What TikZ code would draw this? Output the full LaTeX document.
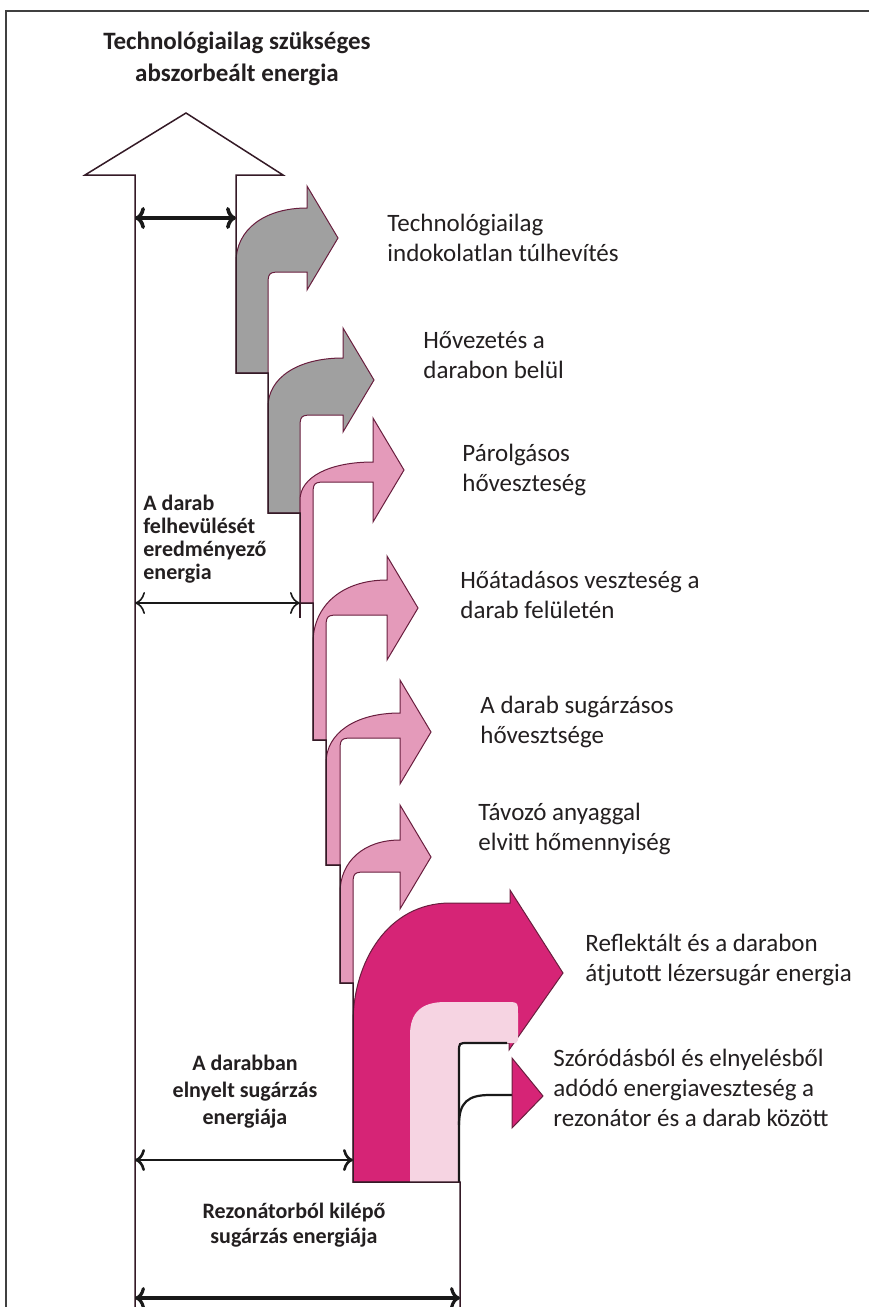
\documentclass[tikz,border=0pt]{standalone}
\usepackage{fontspec}
\setmainfont{Carlito}
\usepackage{tikz}
\usetikzlibrary{arrows.meta}
\definecolor{edgec}{RGB}{52,26,38}
\definecolor{flowedge}{RGB}{105,30,62}
\definecolor{grayflow}{RGB}{160,160,160}
\definecolor{pinkflow}{RGB}{228,154,186}
\definecolor{magflow}{RGB}{214,36,118}
\definecolor{paleflow}{RGB}{246,212,226}
\definecolor{txt}{RGB}{35,31,32}
\tikzset{
  % the page frame
  frame/.style  = {draw=black!75, line width=0.9pt},
  % outline of the main energy stream
  main/.style   = {draw=edgec, line width=0.75pt, line join=miter},
  % a branch leaving the stream
  flow/.style   = {draw=flowedge, line width=0.5pt},
  % a plain black guide line
  blk/.style    = {draw=black!90, line width=1.1pt},
  % a dimension arrow
  dimarr/.style = {{To[length=5pt,width=11pt]}-{To[length=5pt,width=11pt]},
                   draw=black!90},
  % a label beside a branch
  el/.style     = {font=\fontsize{12.5}{15}\selectfont, text=txt,
                   align=left, anchor=west, inner sep=0pt},
  % a bold label on the stream
  bl/.style     = {font=\bfseries\fontsize{11}{13.5}\selectfont, text=txt,
                   align=center, inner sep=0pt},
}
% a bent branch: fill, stem left/right x, stem bottom y, head base x,
% shaft top/bottom y, rise of the outer bend, head centre y
\newcommand{\lossflow}[9]{%
  \filldraw[flow, fill=#1]
    (#2,#4) -- (#2,{#6+#8})
    .. controls (#2,{#6+0.4*#8}) and ({#2+0.4*(#5-#2)},#6) .. (#5,#6)
    -- (#5,{#9-52}) -- ({#5+31},#9) -- (#5,{#9+52})
    -- (#5,#7) -- ({#3+16},#7)
    .. controls (#3,#7) .. (#3,{#7+16})
    -- (#3,#4) -- cycle;
}

\begin{document}
\begin{tikzpicture}[x=0.5pt, y=-0.5pt]
  \useasboundingbox (0,0) rectangle (869,1307);
  \draw[frame] (869,11) -- (6,11) -- (6,1307);

  \lossflow{grayflow}{236}{268}{373}{307}{208}{272}{54}{238}
  \lossflow{grayflow}{268}{300}{513}{343}{358}{415}{49}{380}
  \lossflow{pinkflow}{300}{313}{603}{373}{462}{482}{38}{470}
  \lossflow{pinkflow}{313}{326}{740}{387}{580}{615}{63}{608}
  \lossflow{pinkflow}{326}{340}{865}{400}{713}{738}{50}{732}
  \lossflow{pinkflow}{340}{353}{983}{400}{840}{872}{53}{857}

  % reflected beam, with the scattered part inside it
  \filldraw[flow, fill=magflow] (353,1182) -- (353,1023)
    .. controls (353,962) and (388,903) .. (450,903) -- (510,903)
    -- (510,890) -- (563,973) -- (509,1050) -- (509,1043)
    -- (459,1043) -- (459,1182) -- cycle;
  \fill[paleflow] (410,1182) -- (410,1035)
    .. controls (410,1012) and (422,1002) .. (445,1002) -- (506,1002)
    .. controls (518,1002) .. (518,1014) -- (518,1040) -- (516,1043)
    -- (459,1043) -- (459,1182) -- cycle;
  \draw[blk] (459,1182) -- (459,1052) .. controls (459,1043) .. (468,1043)
    -- (507,1043);
  \draw[blk] (459,1125) .. controls (459,1102) and (468,1095) .. (490,1095)
    -- (512,1095);
  \filldraw[flow, fill=magflow] (512,1058) -- (543,1096) -- (512,1128) -- cycle;

  \draw[main] (135,1307) -- (135,175) -- (85,175) -- (186,113) -- (283,175)
    -- (236,175) -- (236,373) -- (268,373) -- (268,513) -- (300,513)
    -- (300,603) -- (313,603) -- (313,740) -- (326,740) -- (326,865)
    -- (340,865) -- (340,983) -- (353,983) -- (353,1182) -- (460,1182)
    -- (460,1307);
  \draw[main] (300,603) -- (300,618);

  \coordinate (absL)  at (135,218);  \coordinate (absR)  at (236,218);
  \coordinate (heatL) at (135,603);  \coordinate (heatR) at (300,603);
  \coordinate (beamL) at (135,1160); \coordinate (beamR) at (353,1160);
  \coordinate (resL)  at (135,1298); \coordinate (resR)  at (460,1298);
  \draw[dimarr, line width=1.8pt] (absL) -- (absR);
  \draw[dimarr, line width=0.8pt] (heatL) -- (heatR);
  \draw[dimarr, line width=1.3pt] (beamL) -- (beamR);
  \draw[dimarr, line width=1.6pt] (resL) -- (resR);

  \node[bl, font=\bfseries\fontsize{12.5}{16}\selectfont] (title) at (237,59)
        {Technológiailag szükséges\\abszorbeált energia};
  \node[bl, align=left, anchor=west, font=\bfseries\fontsize{11}{11.4}\selectfont]
        (heatLbl) at (143,539) {A darab\\felhevülését\\eredményező\\energia};
  \node[bl] (beamLbl) at (245,1092) {A darabban\\elnyelt sugárzás\\energiája};
  \node[bl, font=\bfseries\fontsize{11}{12.5}\selectfont] (resLbl) at (294,1225)
        {Rezonátorból kilépő\\sugárzás energiája};

  \node[el] (overLbl)  at (387,238)  {Technológiailag\\indokolatlan túlhevítés};
  \node[el] (condLbl)  at (423,355)  {Hővezetés a\\darabon belül};
  \node[el] (evapLbl)  at (462,470)  {Párolgásos\\hőveszteség};
  \node[el] (convLbl)  at (460,595)  {Hőátadásos veszteség a\\darab felületén};
  \node[el] (radLbl)   at (480,722)  {A darab sugárzásos\\hővesztsége};
  \node[el] (massLbl)  at (478,829)  {Távozó anyaggal\\elvitt hőmennyiség};
  \node[el] (reflLbl)  at (585,960)  {Reflektált és a darabon\\átjutott lézersugár energia};
  \node[el] (scatLbl)  at (553,1088) {Szóródásból és elnyelésből\\adódó energiaveszteség a\\rezonátor és a darab között};
\end{tikzpicture}
\end{document}
